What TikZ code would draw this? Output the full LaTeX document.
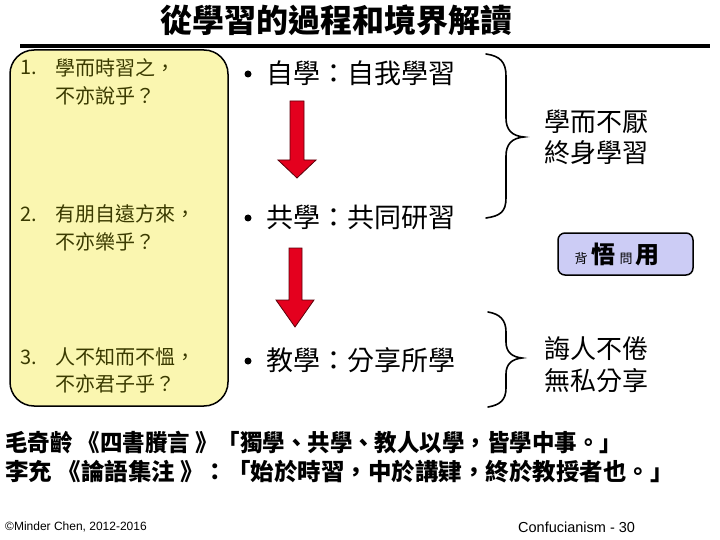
\documentclass[tikz,border=0pt]{standalone}
\usepackage{fontspec}
\setmainfont{Liberation Sans}
\newfontfamily\cjk{Noto Sans CJK TC}
\definecolor{boxfill}{RGB}{250,246,176}
\definecolor{boxtext}{RGB}{58,58,0}
\definecolor{bluefill}{RGB}{204,204,245}
\definecolor{arrowred}{RGB}{228,0,30}
\begin{document}
\begin{tikzpicture}[x=1pt,y=-1pt,
  boxtxt/.style={font=\cjk\fontsize{20}{24}\selectfont, text=boxtext, anchor=west, inner sep=0pt},
  bul/.style={font=\cjk\fontsize{27}{30}\selectfont, anchor=west, inner sep=0pt},
  dot/.style={circle, fill=black, inner sep=0pt, minimum size=7pt},
  rtxt/.style={font=\cjk\fontsize{26}{30}\selectfont, anchor=west, inner sep=0pt},
  cite/.style={font=\cjk\bfseries\fontsize{23.5}{26}\selectfont, anchor=west, inner sep=0pt},
  bigarrow/.style={fill=arrowred, draw={rgb,255:red,90;green,0;blue,10}, line width=0.8pt, line join=miter},
  brace/.style={draw=black, line width=1.6pt, line cap=round},
]
\useasboundingbox (0,0) rectangle (720,540);
% title and rule
\node[font=\cjk\bfseries\fontsize{32}{36}\selectfont, inner sep=0pt] (title) at (336,20) {從學習的過程和境界解讀};
\draw[line width=4pt] (20,46) -- (710,46);
% yellow box
\draw[fill=boxfill, line width=1.5pt, rounded corners=24pt] (10,50) rectangle (228,406);
\node[boxtxt] (i1n) at (20,68) {1.};
\node[boxtxt] (i1a) at (55,68) {學而時習之，};
\node[boxtxt] (i1b) at (55,96) {不亦說乎？};
\node[boxtxt] (i2n) at (20,214) {2.};
\node[boxtxt] (i2a) at (55,214) {有朋自遠方來，};
\node[boxtxt] (i2b) at (55,242) {不亦樂乎？};
\node[boxtxt] (i3n) at (20,357) {3.};
\node[boxtxt] (i3a) at (55,357) {人不知而不慍，};
\node[boxtxt] (i3b) at (55,384) {不亦君子乎？};
% bullets
\node[dot] (d1) at (248,74) {};
\node[bul] (b1) at (266,73) {自學：自我學習};
\node[dot] (d2) at (248,218) {};
\node[bul] (b2) at (266,217) {共學：共同研習};
\node[dot] (d3) at (248,361) {};
\node[bul] (b3) at (266,360) {教學：分享所學};
% red arrows
\draw[bigarrow] (290,101) -- (304,101) -- (304,160) -- (316,160) -- (297,178) -- (278,160) -- (290,160) -- cycle;
\draw[bigarrow] (289,248) -- (302,248) -- (302,300) -- (314,300) -- (295,327) -- (276,300) -- (289,300) -- cycle;
% braces
\draw[brace] (486,54) .. controls (500,56) and (506,62) .. (506,76) -- (506,118) .. controls (506,130) and (512,136) .. (524,137) .. controls (512,138) and (506,144) .. (506,156) -- (506,198) .. controls (506,212) and (500,216) .. (486,218);
\draw[brace] (488,312) .. controls (500,314) and (506,320) .. (506,332) -- (506,342) .. controls (506,352) and (512,357) .. (522,358) .. controls (512,359) and (506,364) .. (506,374) -- (506,388) .. controls (506,400) and (500,405) .. (488,407);
% right texts
\node[rtxt] (r1) at (544,122) {學而不厭};
\node[rtxt] (r2) at (544,153) {終身學習};
\node[rtxt] (r3) at (544,349) {誨人不倦};
\node[rtxt] (r4) at (544,381) {無私分享};
% blue box
\draw[fill=bluefill, line width=1.5pt, rounded corners=7pt] (558,233) rectangle (693,275);
\node[font=\cjk, inner sep=0pt, anchor=base] (wu) at (617,263) {{\fontsize{13}{14}\selectfont 背}\hspace{4pt}{\bfseries\fontsize{24}{26}\selectfont 悟}\hspace{4pt}{\fontsize{13}{14}\selectfont 問}\hspace{3pt}{\bfseries\fontsize{24}{26}\selectfont 用}};
% citations
\node[cite] (c1) at (5,443) {\scalebox{0.956}[1]{毛奇齡 《四書賸言 》「獨學、共學、教人以學，皆學中事。」}};
\node[cite] (c2) at (5,472) {李充 《論語集注 》：「始於時習，中於講肄，終於教授者也。」};
% footer
\node[font=\fontsize{12}{14}\selectfont, anchor=west, inner sep=0pt] (f1) at (5,527) {©Minder Chen, 2012-2016};
\node[font=\fontsize{14.5}{16}\selectfont, anchor=west, inner sep=0pt] (f2) at (518,527) {Confucianism - 30};
\end{tikzpicture}
\end{document}
